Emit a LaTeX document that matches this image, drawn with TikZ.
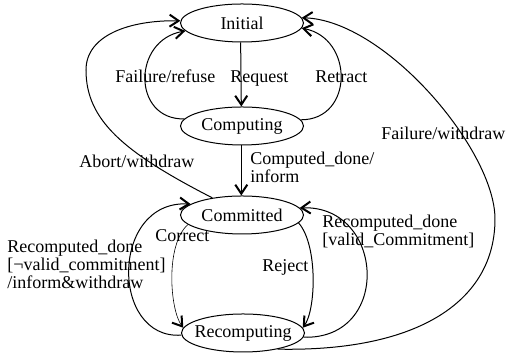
\documentclass[tikz,border=0pt]{standalone}
\usepackage{fontspec}
\setmainfont{Liberation Serif}
\usetikzlibrary{arrows.meta,shapes.geometric}
\begin{document}
\begin{tikzpicture}[x=0.5pt,y=-0.5pt,
  state/.style={draw, ellipse, minimum width=61.5pt, minimum height=19pt, inner sep=0pt, line width=0.5pt, font=\fontsize{9}{9}\selectfont},
  lbl/.style={inner sep=0pt, anchor=base west, font=\fontsize{9}{9}\selectfont},
  trans/.style={line width=0.5pt, -{Straight Barb[length=4.5pt,width=6pt,line width=1pt]}},
  thintrans/.style={line width=0.3pt, -{Straight Barb[length=4.5pt,width=6pt,line width=1pt]}},
]
\fill[white] (0,0) rectangle (511,356);
\useasboundingbox (0,0) rectangle (511,356);
% states
\node[state] (ini) at (242,23) {\makebox[0pt]{Initial}};
\node[state] (cmp) at (242,126) {\makebox[0pt]{Computing}};
\node[state] (com) at (242,215) {\makebox[0pt]{Committed}};
\node[state] (rec) at (243,333) {\makebox[0pt]{Recomputing}};
% helper coordinates
\coordinate (abtop) at (86,70);
\coordinate (fwright) at (495,219);
% transitions
\draw[trans] (ini.266) -- (cmp.92);
\draw[trans] (cmp.173) .. controls (132,120) and (132,40) .. (ini.188);
\draw[trans] (cmp.6) .. controls (354,120) and (354,38) .. (ini.355);
\draw[trans] (cmp.268) -- (com.92);
\draw[trans] (com.150) .. controls (123,152) and (86,120) .. (abtop) .. controls (86,35) and (130,20) .. (ini.178);
\draw[trans] (rec.335) .. controls (420,352) and (495,300) .. (fwright) .. controls (495,150) and (385,20) .. (ini.5);
\draw[trans] (rec.182) .. controls (110,340) and (110,200) .. (com.168);
\draw[thintrans] (com.190) .. controls (165,245) and (170,310) .. (rec.175);
\draw[trans] (com.352) .. controls (318,245) and (316,310) .. (rec.5);
\draw[trans] (rec.356) .. controls (392,340) and (385,205) .. (com.7);
% labels
\node[lbl] (lfr) at (115,83) {Failure/refuse};
\node[lbl] (lreq) at (230,83) {Request};
\node[lbl] (lret) at (315,83) {Retract};
\node[lbl] (lfw) at (381,140) {Failure/withdraw};
\node[lbl] (lab) at (79,168) {Abort/withdraw};
\node[lbl, align=left] (lcd) at (250,183) {Computed\_done/\\inform};
\node[lbl] (lcor) at (155,242) {Correct};
\node[lbl] (lrej) at (262,272) {Reject};
\node[lbl, align=left] (lrv) at (322,246) {Recomputed\_done\\{[}valid\_Commitment{]}};
\node[lbl, align=left] (lrn) at (7,289) {Recomputed\_done\\{[}¬valid\_commitment{]}\\/inform\&withdraw};
\end{tikzpicture}
\end{document}
